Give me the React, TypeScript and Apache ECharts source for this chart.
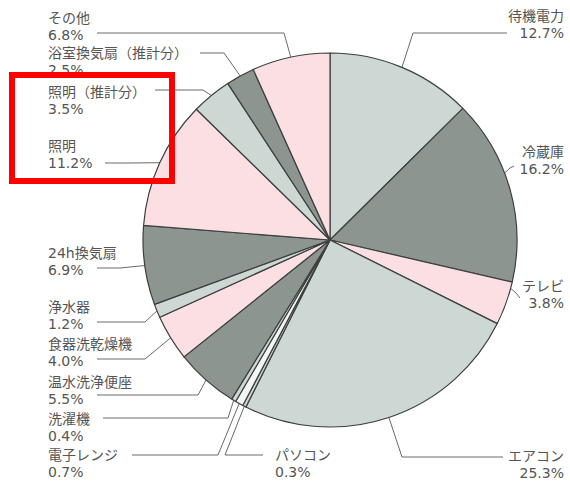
import React, { useEffect, useRef } from "react";
import * as echarts from "echarts";

// ---- data ----
const categories = [
  "待機電力",
  "冷蔵庫",
  "テレビ",
  "エアコン",
  "パソコン",
  "電子レンジ",
  "洗濯機",
  "温水洗浄便座",
  "食器洗乾燥機",
  "浄水器",
  "24h換気扇",
  "照明",
  "照明（推計分）",
  "浴室換気扇（推計分）",
  "その他",
];
const shares = [12.7, 16.2, 3.8, 25.3, 0.3, 0.7, 0.4, 5.5, 4.0, 1.2, 6.9, 11.2, 3.5, 2.5, 6.8];

// ---- styles ----
const LIGHT = "#cdd7d3";
const DARK = "#8d9590";
const PINK = "#fbdfe3";
const WHITE = "#f4f6f5";
const sliceColors = [LIGHT, DARK, PINK, LIGHT, LIGHT, WHITE, LIGHT, DARK, PINK, LIGHT, DARK, PINK, LIGHT, DARK, PINK];

// ---- layout ----
const CX = 330;
const CY = 240;
const R = 187;
const LEFT_X = 48;
const RIGHT_X = 564;

type Spec = {
  x: number;
  y: number;
  align: "left" | "right";
  angle?: number;
  elbow: number[];
  end: number[];
};

const labelSpecs: Spec[] = [
  { x: RIGHT_X, y: 24, align: "right", elbow: [413, 33], end: [507, 33] },
  { x: RIGHT_X, y: 160, align: "right", angle: 69, elbow: [510, 168], end: [514, 166] },
  { x: RIGHT_X, y: 294, align: "right", angle: 105, elbow: [516, 293], end: [520, 298] },
  { x: RIGHT_X, y: 464, align: "right", elbow: [402, 457], end: [503, 457] },
  { x: 275, y: 463, align: "left", elbow: [225, 455], end: [263, 455] },
  { x: LEFT_X, y: 463, align: "left", elbow: [218, 455], end: [132, 455] },
  { x: LEFT_X, y: 427, align: "left", elbow: [228, 418], end: [103, 418] },
  { x: LEFT_X, y: 390, align: "left", elbow: [198, 395], end: [97, 395] },
  { x: LEFT_X, y: 352, align: "left", elbow: [145, 359], end: [97, 359] },
  { x: LEFT_X, y: 315, align: "left", elbow: [145, 322], end: [97, 322] },
  { x: LEFT_X, y: 261, align: "left", elbow: [120, 268], end: [97, 268] },
  { x: LEFT_X, y: 154, align: "left", elbow: [130, 163], end: [105, 163] },
  { x: LEFT_X, y: 100, align: "left", elbow: [203, 90], end: [155, 90] },
  { x: LEFT_X, y: 61, align: "left", elbow: [224, 53], end: [200, 53] },
  { x: LEFT_X, y: 26, align: "left", elbow: [284, 33], end: [97, 33] },
];

const FONT = "'DejaVu Sans', 'Noto Sans CJK JP', sans-serif";

export default function App() {
  const ref = useRef<HTMLDivElement>(null);

  useEffect(() => {
    if (!ref.current) return;
    const chart = echarts.init(ref.current, undefined, { renderer: "svg" });

    const total = shares.reduce((a, b) => a + b, 0);
    const midAngles: number[] = [];
    let acc = 0;
    shares.forEach((v) => {
      midAngles.push(((acc + v / 2) / total) * 360);
      acc += v;
    });

    chart.setOption({
      animation: false,
      backgroundColor: "#ffffff",
      series: [
        {
          type: "pie",
          center: [CX, CY],
          radius: R,
          startAngle: 90,
          clockwise: true,
          avoidLabelOverlap: false,
          data: categories.map((name, i) => ({
            name,
            value: shares[i],
            itemStyle: { color: sliceColors[i] },
          })),
          itemStyle: { borderColor: "#3c3f3d", borderWidth: 1.2 },
          emphasis: { disabled: true },
          label: {
            show: true,
            position: "outside",
            formatter: (p: any) => `${p.name}\n${Number(p.value).toFixed(1)}%`,
            color: "#555555",
            fontSize: 14,
            lineHeight: 17,
            fontFamily: FONT,
          },
          labelLine: {
            show: true,
            smooth: false,
            lineStyle: { color: "#6a6a6a", width: 1 },
          },
          labelLayout: (params: any) => {
            const i = params.dataIndex;
            const s = labelSpecs[i];
            const a = ((s.angle ?? midAngles[i]) * Math.PI) / 180;
            const edge = [CX + R * Math.sin(a), CY - R * Math.cos(a)];
            return {
              x: s.x,
              y: s.y,
              align: s.align,
              verticalAlign: "middle",
              labelLinePoints: [edge, s.elbow, s.end],
            };
          },
        },
      ],
      graphic: [
        {
          type: "rect",
          z: 100,
          shape: { x: 12, y: 75, width: 160, height: 106 },
          style: { fill: "none", stroke: "#ff0000", lineWidth: 6 },
        },
      ],
    });

    return () => chart.dispose();
  }, []);

  return (
    <div
      ref={ref}
      style={{ position: "fixed", left: 0, top: 0, width: 570, height: 481 }}
    />
  );
}
